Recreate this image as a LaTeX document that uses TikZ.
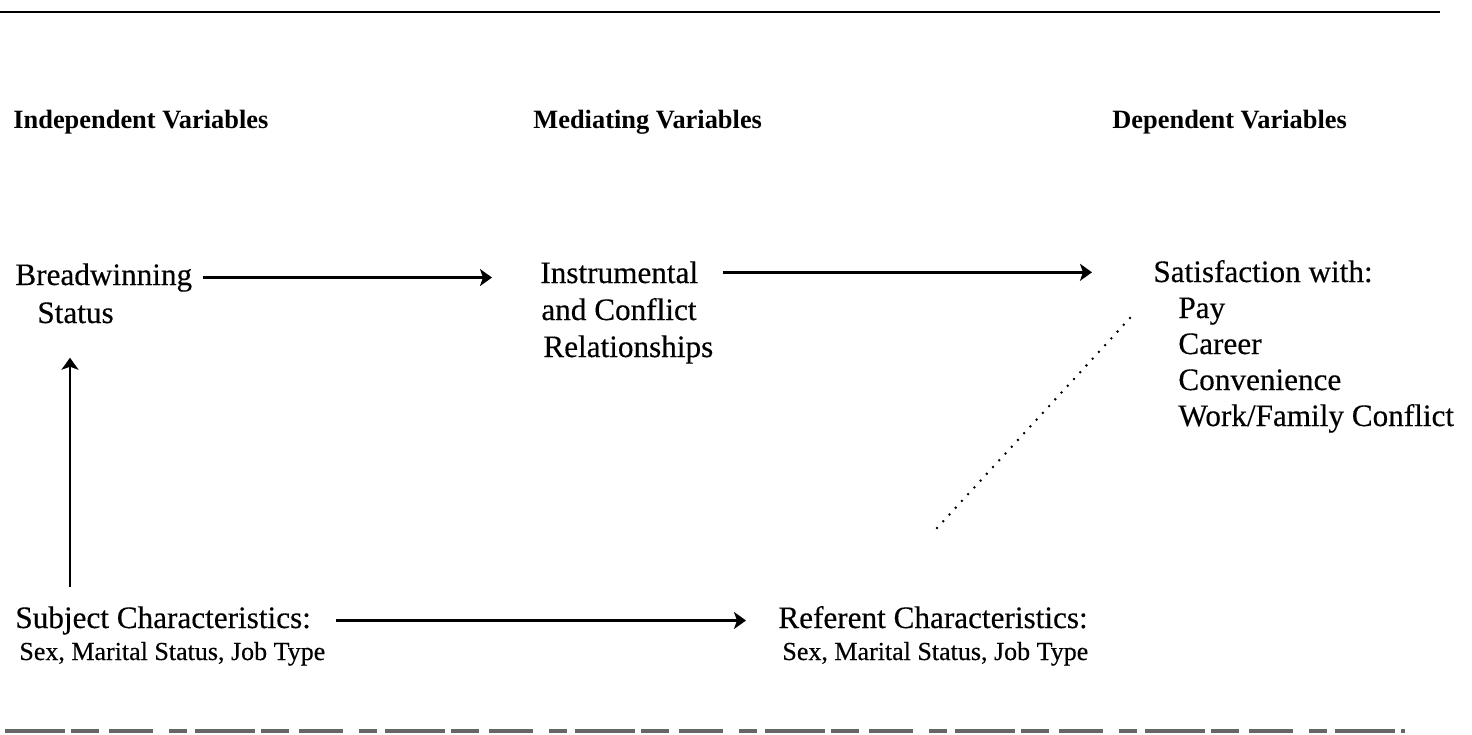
\documentclass[tikz,border=0pt]{standalone}
\usepackage{fontspec}
\setmainfont{Liberation Serif}
\newfontfamily\inkfont{Liberation Serif}[FakeBold=0.35]
\usetikzlibrary{arrows.meta}
\begin{document}
\begin{tikzpicture}[x=0.5pt,y=-0.5pt,
  txt/.style={font=\inkfont\fontsize{15.6}{18}\selectfont, inner sep=0pt, anchor=base west},
  hdr/.style={font=\fontsize{13.2}{15}\selectfont\bfseries, inner sep=0pt, anchor=base west},
  smalltxt/.style={font=\inkfont\fontsize{13}{15}\selectfont, inner sep=0pt, anchor=base west},
  arr/.style={line width=1.2pt, -{Stealth[length=6pt,width=8.5pt,inset=1.5pt]}},
  dotline/.style={line width=1.4pt, line cap=round, dash pattern=on 0pt off 4.6pt},
  rule/.style={line width=1.1pt},
  brokenrule/.style={line width=1.6pt, black!60, dash pattern=on 30pt off 3pt on 14pt off 5pt on 22pt off 8pt on 9pt off 4pt}
]
\useasboundingbox (0,0) rectangle (1472,734);

% rules
\coordinate (tl) at (0,12);
\coordinate (tr) at (1440,12);
\draw[rule] (tl) -- (tr);
\coordinate (bl) at (5,731);
\coordinate (br) at (1405,731);
\draw[brokenrule] (bl) -- (br);

% headers
\node[hdr] (hInd) at (13,128) {Independent Variables};
\node[hdr] (hMed) at (533,128) {Mediating Variables};
\node[hdr] (hDep) at (1112,128) {Dependent Variables};

% independent
\node[txt] (bw) at (15,285) {Breadwinning};
\node[txt] (status) at (37,323) {Status};

% mediating
\node[txt] (inst1) at (540,283) {Instrumental};
\node[txt] (inst2) at (541,320) {and Conflict};
\node[txt] (inst3) at (543,357) {Relationships};

% dependent
\node[txt] (sat) at (1153,282) {Satisfaction with:};
\node[txt] (pay) at (1178,318) {Pay};
\node[txt] (career) at (1178,354) {Career};
\node[txt] (conv) at (1178,390) {Convenience};
\node[txt] (wf) at (1178,426) {Work/Family Conflict};

% characteristics
\node[txt] (subj) at (15,628) {Subject Characteristics:};
\node[smalltxt] (subjd) at (19,660) {Sex, Marital Status, Job Type};
\node[txt] (ref) at (778,628) {Referent Characteristics:};
\node[smalltxt] (refd) at (782,660) {Sex, Marital Status, Job Type};

% connectors
\draw[arr] ([xshift=5pt]bw.east) -- ([xshift=-24pt]inst1.west |- bw.east);
\draw[arr] ([xshift=12pt]inst1.east) -- ([xshift=-30.5pt]sat.west |- inst1.east);
\coordinate (vt) at ([xshift=27.5pt]subj.north west |- status.south);
\draw[arr] ([yshift=9.5pt]subj.north west -| vt) -- ([yshift=-17pt]vt);
\draw[arr] ([xshift=12.5pt]subj.east) -- ([xshift=-16pt]ref.west |- subj.east);
\coordinate (dstart) at (937,528);
\draw[dotline] (dstart) -- ([xshift=-24pt]pay.base west);
\end{tikzpicture}
\end{document}
